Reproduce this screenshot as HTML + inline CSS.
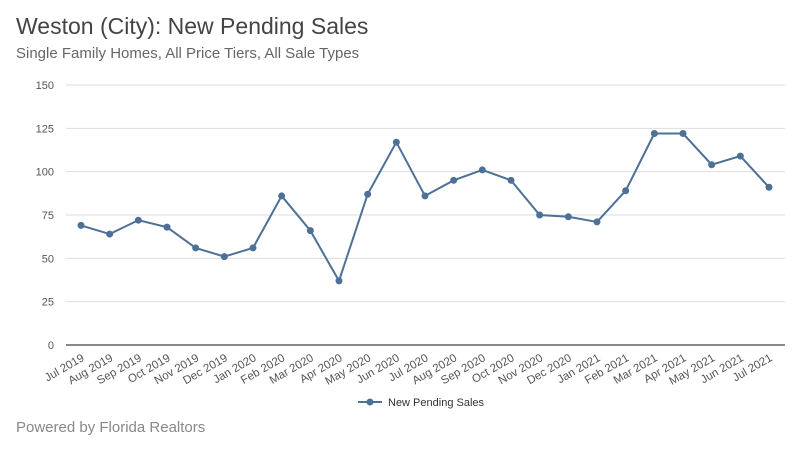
<!DOCTYPE html>
<html><head><meta charset="utf-8"><style>
body{margin:0;background:#fff;font-family:"Liberation Sans",sans-serif;}
svg{display:block}
</style></head><body>
<svg width="800" height="450">
<text x="16" y="34" font-size="23" fill="#444">Weston (City): New Pending Sales</text>
<text x="16" y="58" font-size="15" fill="#666">Single Family Homes, All Price Tiers, All Sale Types</text>
<g id="grid"></g><g id="xlab"></g><g id="series"></g>
<g>
<line x1="358" y1="402" x2="382" y2="402" stroke="#4d7196" stroke-width="2"/>
<circle cx="370" cy="402" r="3.5" fill="#4d7196"/>
<text x="388" y="406" font-size="11" fill="#333">New Pending Sales</text>
</g>
<text x="16" y="432" font-size="15" fill="#888">Powered by Florida Realtors</text>
</svg>
<script>
const categories=["Jul 2019","Aug 2019","Sep 2019","Oct 2019","Nov 2019","Dec 2019","Jan 2020","Feb 2020","Mar 2020","Apr 2020","May 2020","Jun 2020","Jul 2020","Aug 2020","Sep 2020","Oct 2020","Nov 2020","Dec 2020","Jan 2021","Feb 2021","Mar 2021","Apr 2021","May 2021","Jun 2021","Jul 2021"];
const values=[69,64,72,68,56,51,56,86,66,37,87,117,86,95,101,95,75,74,71,89,122,122,104,109,91];
const yTicks=[0,25,50,75,100,125,150];
const NS="http://www.w3.org/2000/svg";
const x=i=>81+i*(769-81)/(categories.length-1);
const y=v=>345-v*260/150;
function mk(t,a,p){const e=document.createElementNS(NS,t);for(const k in a)e.setAttribute(k,a[k]);p.appendChild(e);return e;}
const g=document.getElementById('grid');
yTicks.forEach(v=>{
 const l=mk('line',{x1:66,x2:785,y1:y(v),y2:y(v),stroke:v===0?'#888':'#ddd','stroke-width':v===0?2:1},g);
 
 
 const t=mk('text',{x:54,y:y(v)+4,'font-size':11,fill:'#555','text-anchor':'end'},g);
 t.textContent=v;
 
 
});
const xl=document.getElementById('xlab');
categories.forEach((c,i)=>{
 const t=mk('text',{x:x(i)+4,y:360,'font-size':11.5,fill:'#555','text-anchor':'end',transform:`rotate(-30 ${x(i)+4} 360)`},xl);
 t.textContent=c;
 
 
});
const s=document.getElementById('series');
const p=mk('polyline',{points:values.map((v,i)=>x(i)+','+y(v)).join(' '),fill:'none',stroke:'#4d7196','stroke-width':2},s);


values.forEach((v,i)=>{
 const c=mk('circle',{cx:x(i),cy:y(v),r:3.5,fill:'#4d7196'},s);
 
 
});
</script>
</body></html>
